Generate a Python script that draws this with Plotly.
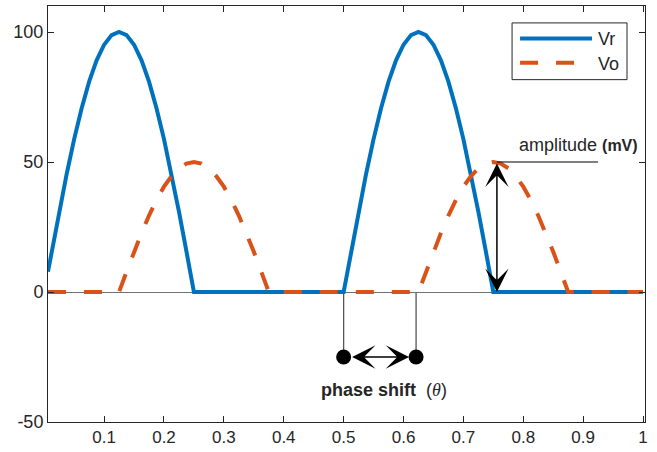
import plotly.graph_objects as go

# ---- data ----
vr_time = [0.00625, 0.0125, 0.025, 0.0375, 0.05, 0.0625, 0.075, 0.0875, 0.1, 0.1125, 0.125,
           0.1375, 0.15, 0.1625, 0.175, 0.1875, 0.2, 0.2125, 0.225, 0.2375, 0.25,
           0.5, 0.5125, 0.525, 0.5375, 0.55, 0.5625, 0.575, 0.5875, 0.6, 0.6125, 0.625,
           0.6375, 0.65, 0.6625, 0.675, 0.6875, 0.7, 0.7125, 0.725, 0.7375, 0.75, 1.0]
vr_values = [7.8, 15.6, 30.9, 45.4, 58.8, 70.7, 80.9, 89.1, 95.1, 98.8, 100,
             98.8, 95.1, 89.1, 80.9, 70.7, 58.8, 45.4, 30.9, 15.6, 0,
             0, 15.6, 30.9, 45.4, 58.8, 70.7, 80.9, 89.1, 95.1, 98.8, 100,
             98.8, 95.1, 89.1, 80.9, 70.7, 58.8, 45.4, 30.9, 15.6, 0, 0]

vo_time = [0.00625, 0.125, 0.1375, 0.15, 0.1625, 0.175, 0.1875, 0.2, 0.2125, 0.225, 0.2375, 0.25,
           0.2625, 0.275, 0.2875, 0.3, 0.3125, 0.325, 0.3375, 0.35, 0.3625, 0.375,
           0.625, 0.6375, 0.65, 0.6625, 0.675, 0.6875, 0.7, 0.7125, 0.725, 0.7375, 0.75,
           0.7625, 0.775, 0.7875, 0.8, 0.8125, 0.825, 0.8375, 0.85, 0.8625, 0.875, 1.0]
vo_values = [0, 0, 7.8, 15.5, 22.7, 29.4, 35.4, 40.5, 44.5, 47.6, 49.4, 50,
             49.4, 47.6, 44.5, 40.5, 35.4, 29.4, 22.7, 15.5, 7.8, 0,
             0, 7.8, 15.5, 22.7, 29.4, 35.4, 40.5, 44.5, 47.6, 49.4, 50,
             49.4, 47.6, 44.5, 40.5, 35.4, 29.4, 22.7, 15.5, 7.8, 0, 0]

phase_x = [0.5, 0.621]
phase_y = [-25, -25]
amp_x = 0.756
amp_top = 50
amp_line_end = 0.925

x_ticks = [0.1, 0.2, 0.3, 0.4, 0.5, 0.6, 0.7, 0.8, 0.9, 1]
x_ticklabels = ["0.1", "0.2", "0.3", "0.4", "0.5", "0.6", "0.7", "0.8", "0.9", "1"]
y_ticks = [-50, 0, 50, 100]
y_ticklabels = ["-50", "0", "50", "100"]

BLUE = "#0072BD"
ORANGE = "#D95319"
AX = "#262626"
FONT = "Liberation Sans, Arial, sans-serif"

fig = go.Figure()
fig.add_trace(go.Scatter(x=vr_time, y=vr_values, mode="lines", name="Vr",
                         line=dict(color=BLUE, width=4), showlegend=False))
fig.add_trace(go.Scatter(x=vo_time, y=vo_values, mode="lines", name="Vo",
                         line=dict(color=ORANGE, width=4, dash="18px,18px"), showlegend=False))
fig.add_trace(go.Scatter(x=phase_x, y=phase_y, mode="markers",
                         marker=dict(color="black", size=15), showlegend=False, hoverinfo="skip"))

shapes = []
# vertical drop lines for phase shift
for px in phase_x:
    shapes.append(dict(type="line", xref="x", yref="y", x0=px, x1=px, y0=0, y1=phase_y[0],
                       line=dict(color="#555555", width=1.3), layer="below"))
# amplitude horizontal line
shapes.append(dict(type="line", xref="x", yref="y", x0=amp_x, x1=amp_line_end, y0=amp_top, y1=amp_top,
                   line=dict(color="black", width=1.2)))

# manual legend (paper coords)
def xp(p):
    return (p - 47.7) / 597.3

def yp(p):
    return (423 - p) / 418

shapes.append(dict(type="rect", xref="paper", yref="paper", x0=xp(512), x1=xp(627), y0=yp(79), y1=yp(22),
                   line=dict(color=AX, width=1), fillcolor="white"))
shapes.append(dict(type="line", xref="paper", yref="paper", x0=xp(520), x1=xp(592), y0=yp(37.7), y1=yp(37.7),
                   line=dict(color=BLUE, width=4)))
shapes.append(dict(type="line", xref="paper", yref="paper", x0=xp(520), x1=xp(574), y0=yp(62), y1=yp(62),
                   line=dict(color=ORANGE, width=4, dash="18px,18px")))

annotations = [
    dict(xref="paper", yref="paper", x=xp(596), y=yp(38), text="Vr", showarrow=False,
         xanchor="left", yanchor="middle", font=dict(size=18, color=AX, family=FONT)),
    dict(xref="paper", yref="paper", x=xp(596), y=yp(63), text="Vo", showarrow=False,
         xanchor="left", yanchor="middle", font=dict(size=18, color=AX, family=FONT)),
    # phase shift arrow
    dict(xref="x", yref="y", axref="x", ayref="y", x=phase_x[1], y=phase_y[1], ax=phase_x[0], ay=phase_y[0],
         text="", showarrow=True, arrowside="end+start", arrowhead=3, startarrowhead=3,
         arrowsize=2.6, startarrowsize=2.6, arrowwidth=1.5, arrowcolor="black",
         standoff=7, startstandoff=7),
    dict(xref="x", yref="y", x=0.568, y=-37.5, showarrow=False, xanchor="center", yanchor="middle",
         text="<b>phase shift</b>  (<span style=\"font-family:'Liberation Serif',serif\"><i>θ</i></span>)",
         font=dict(size=18, color=AX, family=FONT)),
    # amplitude arrow
    dict(xref="x", yref="y", axref="x", ayref="y", x=amp_x, y=0, ax=amp_x, ay=amp_top,
         text="", showarrow=True, arrowside="end+start", arrowhead=3, startarrowhead=3,
         arrowsize=2.6, startarrowsize=2.6, arrowwidth=1.5, arrowcolor="black",
         standoff=0, startstandoff=0),
    dict(xref="x", yref="y", x=0.893, y=56.5, showarrow=False, xanchor="center", yanchor="middle",
         text="amplitude <b><span style=\"font-size:16px\">(mV)</span></b>",
         font=dict(size=18, color=AX, family=FONT)),
]

fig.update_layout(
    width=657, height=452, autosize=False,
    margin=dict(l=48, r=12, t=5, b=29, pad=0),
    paper_bgcolor="white", plot_bgcolor="white",
    font=dict(family=FONT, size=17, color=AX),
    shapes=shapes, annotations=annotations,
    showlegend=False,
)
fig.update_xaxes(range=[0.0063, 1.0033], tickvals=x_ticks, ticktext=x_ticklabels,
                 showline=True, linecolor=AX, linewidth=1, mirror="allticks",
                 ticks="inside", ticklen=6, tickcolor=AX, tickwidth=1,
                 showgrid=False, zeroline=False, tickfont=dict(size=17, color=AX))
fig.update_yaxes(range=[-50, 110], tickvals=y_ticks, ticktext=y_ticklabels,
                 showline=True, linecolor=AX, linewidth=1, mirror="allticks",
                 ticks="inside", ticklen=6, tickcolor=AX, tickwidth=1,
                 showgrid=False, zeroline=True, zerolinecolor="#707070", zerolinewidth=1,
                 tickfont=dict(size=18, color=AX))

fig.write_html("out.html", config={"displayModeBar": False},
               post_script="document.body.style.margin='0px';document.body.style.padding='0px';")
